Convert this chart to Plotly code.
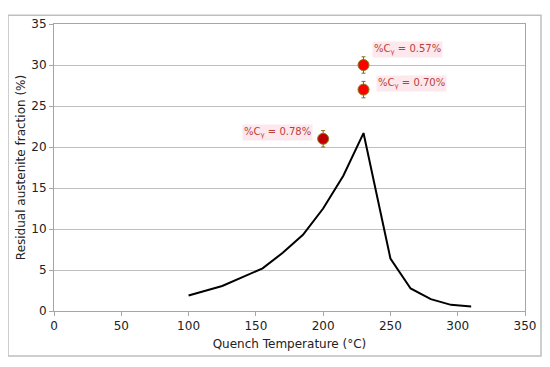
import plotly.graph_objects as go

temps = [100, 125, 155, 170, 185, 200, 215, 230, 250, 265, 280, 295, 310]
austenite = [1.9, 3.05, 5.2, 7.1, 9.3, 12.5, 16.5, 21.7, 6.4, 2.75, 1.45, 0.75, 0.55]

pt_temps = [230, 230, 200]
pt_vals = [30.0, 27.0, 21.0]
pt_err = [1.0, 1.0, 1.0]
pt_colors = ["#FF0000", "#FF0000", "#C00000"]
pt_labels = ["%C<sub>γ</sub> = 0.57%", "%C<sub>γ</sub> = 0.70%", "%C<sub>γ</sub> = 0.78%"]

font = "DejaVu Sans, Verdana, sans-serif"

fig = go.Figure()
fig.add_trace(go.Scatter(x=temps, y=austenite, mode="lines",
                         line=dict(color="black", width=2), showlegend=False))
fig.add_trace(go.Scatter(x=pt_temps, y=pt_vals, mode="markers",
                         marker=dict(size=11, color=pt_colors, line=dict(color="#8B7A1A", width=1)),
                         error_y=dict(type="data", array=pt_err, color="#8B6A1A", thickness=1, width=2),
                         showlegend=False))

shifts = [(44, 16), (48, 6), (-46, 6)]
for xv, yv, lab, (sx, sy) in zip(pt_temps, pt_vals, pt_labels, shifts):
    fig.add_annotation(x=xv, y=yv, text=lab, showarrow=False, xshift=sx, yshift=sy,
                       font=dict(family=font, size=10, color="#B8403C"),
                       bgcolor="rgba(253,228,234,0.85)", borderpad=1)

# page body has an 8px margin; compensate so the plot area lands where the reference has it
fig.update_layout(
    width=542, height=359,
    margin=dict(l=46, r=25, t=9, b=56),
    paper_bgcolor="white", plot_bgcolor="white",
    font=dict(family=font, size=12, color="#222"),
    xaxis=dict(range=[0, 350], tickvals=[0, 50, 100, 150, 200, 250, 300, 350],
               showgrid=False, zeroline=False, showline=True, linecolor="#A6A6A6", mirror=True,
               ticks="outside", ticklen=4, tickcolor="#A6A6A6",
               title=dict(text="Quench Temperature (°C)", font=dict(size=12), standoff=7)),
    yaxis=dict(range=[0, 35], tickvals=[0, 5, 10, 15, 20, 25, 30, 35],
               showgrid=True, gridcolor="#BFBFBF", gridwidth=1, zeroline=False,
               showline=True, linecolor="#A6A6A6", mirror=True,
               ticks="outside", ticklen=4, tickcolor="#A6A6A6",
               title=dict(text="Residual austenite fraction (%)", font=dict(size=12), standoff=3)),
)

fig.add_shape(type="rect", xref="paper", yref="paper",
              x0=(0 - 46) / 471, x1=(533 - 46) / 471,
              y0=(303 - 349) / 294, y1=(303 - 0) / 294,
              line=dict(color="#BFBFBF", width=1.5), layer="below")

fig.write_html("out.html")
